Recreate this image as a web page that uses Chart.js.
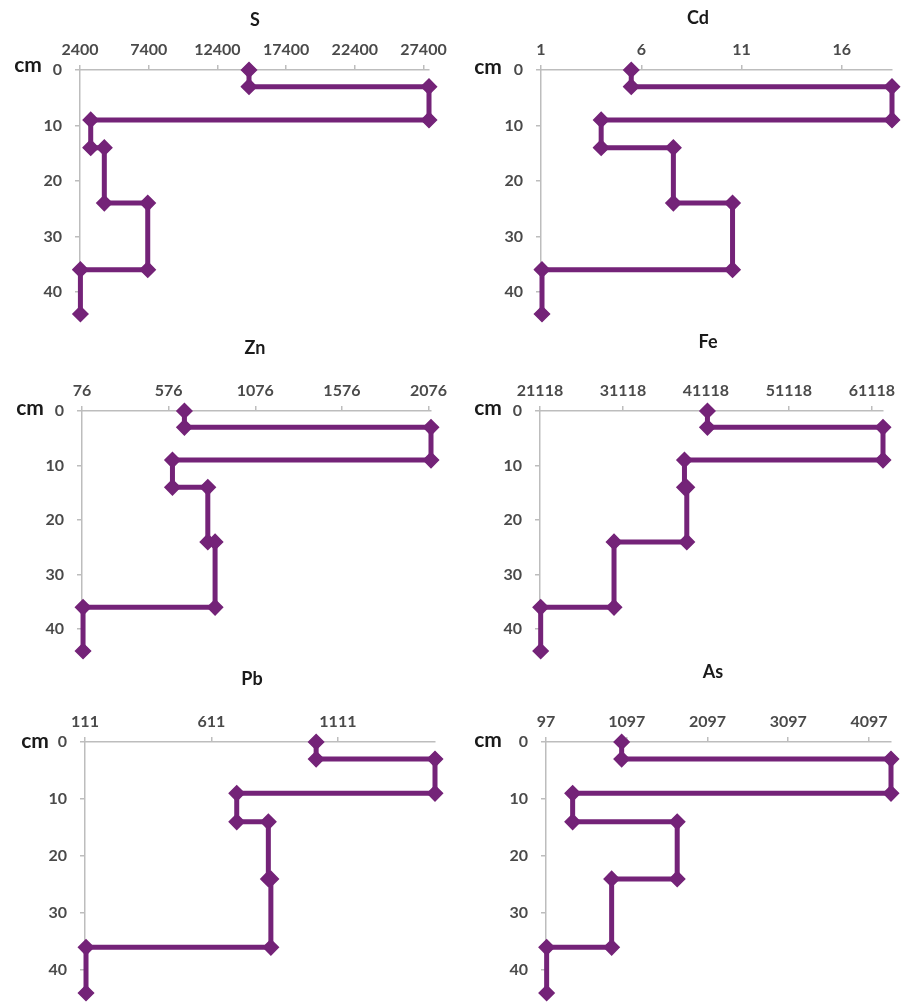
<!DOCTYPE html>
<html>
<head>
<meta charset="utf-8">
<script src="https://cdn.jsdelivr.net/npm/chart.js@4.4.1/dist/chart.umd.min.js"></script>
<style>
  html, body { margin: 0; padding: 0; background: #fff; overflow: hidden; }
  #page { position: relative; width: 904px; height: 1002px; }
  #page canvas { position: absolute; }
</style>
</head>
<body>
<div id="page"></div>
<script>
// depth of the layer boundaries (cm), shared by every profile
const DEPTHS = [0, 3, 9, 14, 24, 36, 44];
const DEPTH_TICKS = [0, 10, 20, 30, 40];

// one value per layer: 0-3, 3-9, 9-14, 14-24, 24-36, 36-44 cm
const S_VALUES = [14700, 27800, 3180, 4170, 7330, 2430];
const S_TICKS = [2400, 7400, 12400, 17400, 22400, 27400];
const S_RANGE = [2400, 27800];

const CD_VALUES = [5.5, 18.5, 4.0, 7.6, 10.55, 1.05];
const CD_TICKS = [1, 6, 11, 16];
const CD_RANGE = [1, 18.5];

const ZN_VALUES = [667, 2090, 598, 802, 844, 82];
const ZN_TICKS = [76, 576, 1076, 1576, 2076];
const ZN_RANGE = [76, 2090];

const FE_VALUES = [41300, 62460, 38530, 38810, 30040, 21200];
const FE_TICKS = [21118, 31118, 41118, 51118, 61118];
const FE_RANGE = [21118, 62460];

const PB_VALUES = [1025, 1495, 711, 836, 846, 115];
const PB_TICKS = [111, 611, 1111];
const PB_RANGE = [111, 1495];

const AS_VALUES = [1034, 4370, 427, 1722, 910, 105];
const AS_TICKS = [97, 1097, 2097, 3097, 4097];
const AS_RANGE = [97, 4370];

const PURPLE = '#742378';
const AXIS_COLOR = '#bdbdbd';
const TICK_COLOR = '#4a4a4a';
const TICK_FONT = { family: 'Lato', size: 16, weight: 'bold' };
const X_AXIS_H = 30;

// page layout: cell = canvas box, area = plot box (left, top, right, bottom)
const PANELS = [
  { name: 'S',  values: S_VALUES,  ticks: S_TICKS,  range: S_RANGE,
    cell: [0, 0, 460, 330],     area: [80, 70, 429, 314],   title: [255, 20],  cm: [28, 65] },
  { name: 'Cd', values: CD_VALUES, ticks: CD_TICKS, range: CD_RANGE,
    cell: [460, 0, 444, 330],   area: [541, 70, 892, 314],  title: [698, 18],  cm: [488, 67] },
  { name: 'Zn', values: ZN_VALUES, ticks: ZN_TICKS, range: ZN_RANGE,
    cell: [0, 330, 460, 330],   area: [82, 411, 431, 654],  title: [255, 348], cm: [30, 408] },
  { name: 'Fe', values: FE_VALUES, ticks: FE_TICKS, range: FE_RANGE,
    cell: [460, 330, 444, 330], area: [540, 411, 883, 654], title: [708, 342], cm: [488, 408] },
  { name: 'Pb', values: PB_VALUES, ticks: PB_TICKS, range: PB_RANGE,
    cell: [0, 660, 460, 342],   area: [85, 742, 435, 995],  title: [252, 679], cm: [35, 741] },
  { name: 'As', values: AS_VALUES, ticks: AS_TICKS, range: AS_RANGE,
    cell: [460, 660, 444, 342], area: [546, 742, 891, 994], title: [713, 672], cm: [488, 740] },
];

// panel title and the "cm" label
const panelText = {
  id: 'panelText',
  afterDraw(chart, args, opts) {
    const ctx = chart.ctx;
    ctx.save();
    ctx.fillStyle = '#1a1a1a';
    ctx.textAlign = 'center';
    ctx.textBaseline = 'middle';
    ctx.font = 'bold 18px Lato';
    ctx.fillText(opts.text, opts.titleX, opts.titleY);
    ctx.font = 'bold 21px Lato';
    ctx.fillText('cm', opts.cmX, opts.cmY);
    ctx.restore();
  }
};

// each layer becomes a vertical segment from its top to its bottom depth
function stepPoints(values) {
  const pts = [];
  values.forEach((v, i) => {
    pts.push({ x: v, y: DEPTHS[i] });
    pts.push({ x: v, y: DEPTHS[i + 1] });
  });
  return pts;
}

function drawPanel(p) {
  const [cx, cy, cw, ch] = p.cell;
  const [L, T, R, B] = p.area;

  const canvas = document.createElement('canvas');
  canvas.width = cw;
  canvas.height = ch;
  canvas.style.left = cx + 'px';
  canvas.style.top = cy + 'px';
  canvas.style.width = cw + 'px';
  canvas.style.height = ch + 'px';
  document.getElementById('page').appendChild(canvas);

  new Chart(canvas, {
    type: 'scatter',
    data: {
      datasets: [{
        data: stepPoints(p.values),
        showLine: true,
        borderColor: PURPLE,
        borderWidth: 5,
        pointStyle: 'rectRot',
        pointRadius: 7.5,
        pointBorderWidth: 1.5,
        pointBackgroundColor: PURPLE,
        pointBorderColor: PURPLE,
        clip: false,
      }]
    },
    options: {
      responsive: false,
      animation: false,
      events: [],
      layout: {
        padding: { left: 0, top: T - cy - X_AXIS_H, right: cx + cw - R, bottom: cy + ch - B }
      },
      plugins: {
        legend: { display: false },
        tooltip: { enabled: false },
        panelText: {
          text: p.name,
          titleX: p.title[0] - cx, titleY: p.title[1] - cy,
          cmX: p.cm[0] - cx, cmY: p.cm[1] - cy,
        },
      },
      scales: {
        x: {
          type: 'linear',
          position: 'top',
          min: p.range[0],
          max: p.range[1],
          afterBuildTicks: axis => { axis.ticks = p.ticks.map(v => ({ value: v })); },
          afterFit: axis => { axis.height = X_AXIS_H; axis.paddingLeft = 0; axis.paddingRight = 0; },
          grid: { drawOnChartArea: false, tickLength: 5, color: AXIS_COLOR, lineWidth: 1.5 },
          border: { color: AXIS_COLOR, width: 1.5 },
          ticks: { autoSkip: false, maxRotation: 0, padding: 6, color: TICK_COLOR, font: TICK_FONT,
                   callback: v => String(v) },
        },
        y: {
          type: 'linear',
          reverse: true,
          min: DEPTHS[0],
          max: DEPTHS[DEPTHS.length - 1],
          afterBuildTicks: axis => { axis.ticks = DEPTH_TICKS.map(v => ({ value: v })); },
          afterFit: axis => { axis.width = L - cx; axis.paddingTop = 0; axis.paddingBottom = 0; },
          grid: { drawOnChartArea: false, tickLength: 5, color: AXIS_COLOR, lineWidth: 1.5 },
          border: { color: AXIS_COLOR, width: 1.5 },
          ticks: { padding: 13, color: TICK_COLOR, font: TICK_FONT, callback: v => String(v) },
        },
      },
    },
    plugins: [panelText],
  });
}

document.fonts.load('bold 16px Lato').then(() => PANELS.forEach(drawPanel));
</script>
</body>
</html>
